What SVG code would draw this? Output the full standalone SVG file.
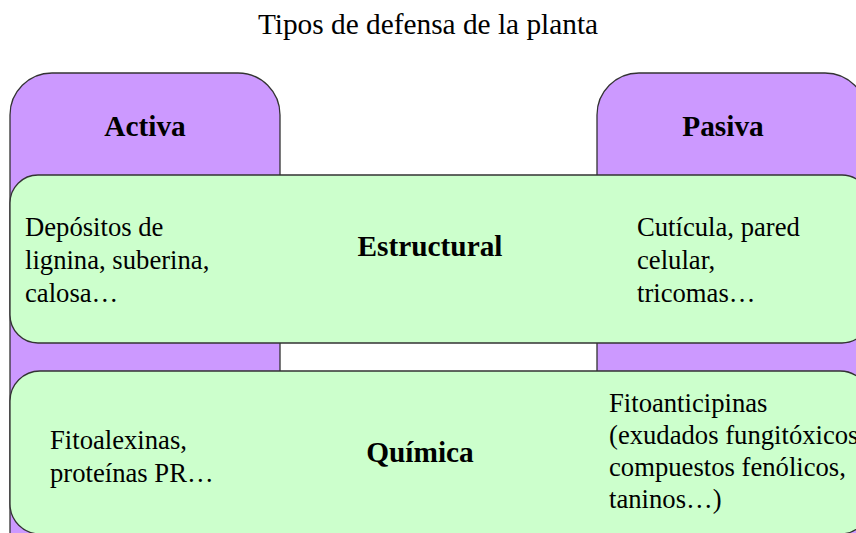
<svg xmlns="http://www.w3.org/2000/svg" width="856" height="533" viewBox="0 0 856 533">
<style>
.purple{fill:#CC99FF;stroke:#333333;stroke-width:1.3}
.green{fill:#CCFFCC;stroke:#333333;stroke-width:1.3}
text{font-family:"Liberation Serif","Times New Roman",serif;fill:#000}
.body{font-size:26.67px}
.bold{font-size:29.33px;font-weight:bold}
.title{font-size:29.33px}
</style>
<rect width="856" height="533" fill="#ffffff"/>
<g id="title"><text class="title" x="428" y="34" text-anchor="middle">Tipos de defensa de la planta</text></g>
<g id="activa">
<rect class="purple" x="10" y="73" width="270" height="500" rx="42" ry="42"/>
<text class="bold" x="145" y="136" text-anchor="middle">Activa</text>
</g>
<g id="pasiva">
<rect class="purple" x="597" y="73" width="270" height="500" rx="42" ry="42"/>
<text class="bold" x="723" y="136" text-anchor="middle">Pasiva</text>
</g>
<g id="estructural">
<rect class="green" x="10" y="175" width="860" height="168" rx="28" ry="28"/>
<text class="bold" x="430" y="256" text-anchor="middle">Estructural</text>
<text class="body" x="25"><tspan x="25" y="236">Depósitos de</tspan><tspan x="25" y="269">lignina, suberina,</tspan><tspan x="25" y="302">calosa…</tspan></text>
<text class="body" x="637"><tspan x="637" y="236">Cutícula, pared</tspan><tspan x="637" y="269">celular,</tspan><tspan x="637" y="302">tricomas…</tspan></text>
</g>
<g id="quimica">
<rect class="green" x="10" y="371" width="860" height="163" rx="30" ry="30"/>
<text class="bold" x="420" y="462" text-anchor="middle">Química</text>
<text class="body" x="50"><tspan x="50" y="449">Fitoalexinas,</tspan><tspan x="50" y="482">proteínas PR…</tspan></text>
<text class="body" x="609"><tspan x="609" y="412">Fitoanticipinas</tspan><tspan x="609" y="444">(exudados fungitóxicos</tspan><tspan x="609" y="476">compuestos fenólicos,</tspan><tspan x="609" y="508">taninos…)</tspan></text>
</g>
<g id="connectors"></g>
</svg>
